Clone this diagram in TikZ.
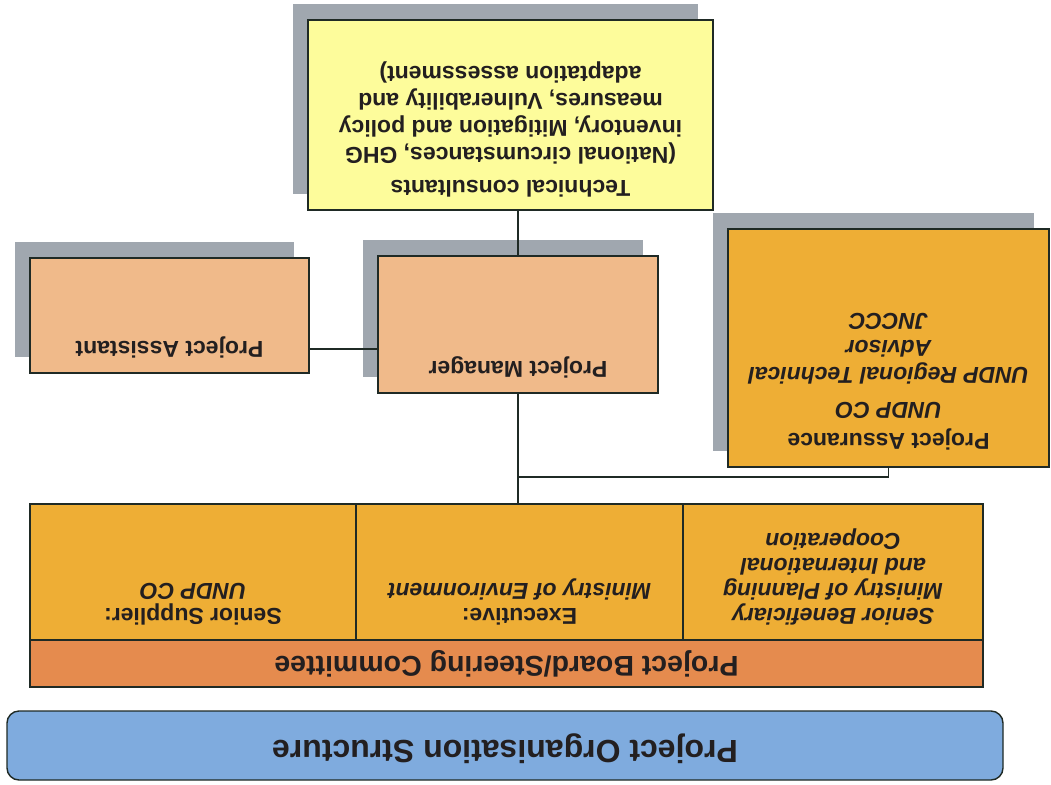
\documentclass[tikz,border=0pt]{standalone}
\usepackage{fontspec}
\setmainfont{Liberation Sans}
\usetikzlibrary{positioning, shadows, backgrounds, calc}
\definecolor{ink}{HTML}{231F20}
\definecolor{edge}{HTML}{1F2A25}
\definecolor{shade}{HTML}{A0A7AF}
\definecolor{lemon}{HTML}{FDFC9B}
\definecolor{peach}{HTML}{F0BA8A}
\definecolor{amber}{HTML}{EEAE35}
\definecolor{rust}{HTML}{E58B4E}
\definecolor{sky}{HTML}{7FABDE}

\begin{document}
\begin{tikzpicture}[x=1pt, y=-1pt,
  box/.style={draw=edge, line width=1.4pt, anchor=north west, inner sep=0pt, outer sep=0pt},
  shd/.style={drop shadow={shadow xshift=-15pt, shadow yshift=16pt, opacity=1, fill=shade}},
  lbl/.style={rotate=180, align=center, inner sep=0pt, text=ink, font=\bfseries\fontsize{23}{27}\selectfont},
  celllbl/.style={lbl, font=\bfseries\itshape\fontsize{23}{25}\selectfont},
  link/.style={draw=edge, line width=1.4pt}
]
\useasboundingbox[fill=white] (0,0) rectangle (1051,784);

% upper boxes
\node[box, shd, fill=lemon, minimum width=405pt, minimum height=190pt] (tech) at (308,20) {};
\node[box, shd, fill=peach, minimum width=279pt, minimum height=115pt] (pa) at (30,258) {};
\node[box, shd, fill=peach, minimum width=280pt, minimum height=137pt] (pm) at (378,256) {};
\node[box, shd, fill=amber, minimum width=321pt, minimum height=238pt] (asu) at (728,229) {};

\node[lbl, anchor=north] (techlbl) at ([yshift=13pt]tech.south) {Technical consultants\\[6pt] (National circumstances, GHG\\ inventory, Mitigation and policy\\ measures, Vulnerability and\\ adaptation assessment)};
\node[lbl, anchor=north] (palbl) at ([yshift=15pt]pa.south) {Project Assistant};
\node[lbl, anchor=north] (pmlbl) at ([yshift=15pt]pm.south) {Project Manager};
\node[lbl, anchor=north] (asulbl) at ([yshift=17pt]asu.south) {Project Assurance\\[4pt] \itshape UNDP CO\\[8pt] \itshape UNDP Regional Technical\\ \itshape Advisor\\ \itshape JNCCC};

% board
\node[box, fill=amber, minimum width=326pt, minimum height=136pt] (supp) at (30,504) {};
\node[box, fill=amber, minimum width=327pt, minimum height=136pt] (exec) at (356,504) {};
\node[box, fill=amber, minimum width=300pt, minimum height=136pt] (bene) at (683,504) {};
\node[box, fill=rust, minimum width=953pt, minimum height=47pt] (pbsc) at (30,640) {};
\begin{scope}[on background layer]
  \fill[shade] ([shift={(-16pt,15pt)}]supp.north west) rectangle ([shift={(-16pt,15pt)}]pbsc.south east);
\end{scope}

\node[celllbl, anchor=north] (supplbl) at ([yshift=15pt]supp.south) {\upshape Senior Supplier:\\ \itshape UNDP CO};
\node[celllbl, anchor=north] (execlbl) at ([yshift=15pt]exec.south) {\upshape Executive:\\ \itshape Ministry of Environment};
\node[celllbl, anchor=north] (benelbl) at ([yshift=15pt]bene.south) {Senior Beneficiary\\ Ministry of Planning\\ and International\\ Cooperation};
\node[lbl, font=\bfseries\fontsize{28.5}{32}\selectfont] (pbsclbl) at (pbsc.center) {Project Board/Steering Committee};

% title
\node[box, fill=sky, rounded corners=12pt, minimum width=996pt, minimum height=69pt] (title) at (7,711) {};
\node[lbl, font=\bfseries\fontsize{32}{36}\selectfont] (titlelbl) at ([yshift=-3pt]title.center) {Project Organisation Structure};

% connectors
\coordinate (tap) at (518,477);
\draw[link] (pm.north) -- (pm.north |- tech.south);
\draw[link] ([yshift=24pt]pa.south east) -- ([yshift=24pt]pa.south east -| pm.west);
\draw[link] (pm.south) -- (pm.south |- exec.north);
\draw[link] (asu.south) |- (tap);
\end{tikzpicture}
\end{document}
